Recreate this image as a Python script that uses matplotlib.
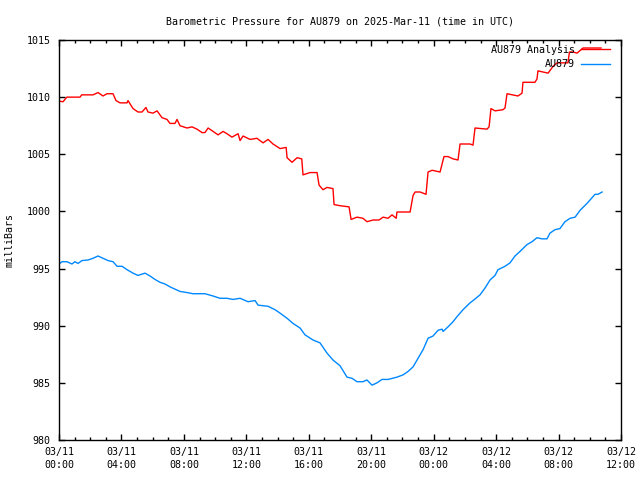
import matplotlib

matplotlib.use("Agg")
import matplotlib.pyplot as plt
import matplotlib.dates as mdates
import pandas as pd

START = pd.Timestamp("2025-03-11 00:00")

# hours since 03/11 00:00 UTC, pressure in mb
analysis_hours = [
    0, 0.26, 0.5, 1.35, 1.45, 2.18, 2.5, 2.82, 3.07, 3.46, 3.65, 3.91, 4.36, 4.42,
    4.74, 5.06, 5.32, 5.57, 5.7, 6.02, 6.28, 6.6, 6.92, 7.11, 7.43, 7.56, 7.75, 8.2,
    8.52, 8.84, 9.16, 9.35, 9.55, 9.87, 10.19, 10.51, 10.76, 11.08, 11.47, 11.6,
    11.79, 12.24, 12.68, 13.07, 13.39, 13.71, 14.16, 14.55, 14.61, 14.93, 15.25,
    15.55, 15.63, 16.08, 16.53, 16.66, 16.91, 17.17, 17.55, 17.62, 18.0, 18.58,
    18.71, 19.09, 19.47, 19.73, 20.12, 20.5, 20.76, 21.08, 21.33, 21.6, 21.65,
    22.49, 22.68, 22.81, 23.13, 23.51, 23.64, 23.9, 24.41, 24.66, 24.92, 25.24,
    25.56, 25.69, 26.33, 26.52, 26.65, 27.42, 27.55, 27.67, 27.93, 28.44, 28.57,
    28.7, 29.4, 29.66, 29.72, 30.49, 30.62, 30.68, 31.33, 31.65, 31.9, 32.6, 32.7,
    32.93, 33.18, 33.57, 34.72,
]
analysis_mb = [
    1009.65, 1009.6, 1010.0, 1010.0, 1010.2, 1010.2, 1010.4, 1010.1, 1010.3, 1010.3,
    1009.7, 1009.5, 1009.5, 1009.7, 1009.0, 1008.7, 1008.7, 1009.1, 1008.7, 1008.6,
    1008.8, 1008.2, 1008.05, 1007.7, 1007.7, 1008.05, 1007.5, 1007.3, 1007.4, 1007.2,
    1006.9, 1006.9, 1007.3, 1007.0, 1006.7, 1007.0, 1006.8, 1006.5, 1006.8, 1006.2,
    1006.6, 1006.3, 1006.4, 1006.0, 1006.3, 1005.9, 1005.5, 1005.6, 1004.7, 1004.3,
    1004.7, 1004.6, 1003.2, 1003.4, 1003.4, 1002.3, 1001.9, 1002.1, 1002.0, 1000.6,
    1000.5, 1000.4, 999.3, 999.5, 999.4, 999.1, 999.25, 999.25, 999.5, 999.4, 999.7,
    999.4, 999.95, 999.95, 1001.4, 1001.7, 1001.7, 1001.5, 1003.45, 1003.6, 1003.45,
    1004.8, 1004.8, 1004.6, 1004.5, 1005.9, 1005.9, 1005.8, 1007.3, 1007.2, 1007.4,
    1009.0, 1008.8, 1008.9, 1009.05, 1010.3, 1010.1, 1010.35, 1011.3, 1011.3, 1011.6,
    1012.3, 1012.1, 1012.7, 1013.0, 1013.0, 1013.95, 1013.95, 1013.85, 1014.3, 1014.3,
]

obs_hours = [
    0, 0.19, 0.51, 0.83, 1.02, 1.22, 1.47, 1.86, 2.18, 2.5, 2.82, 3.14, 3.46, 3.72,
    4.04, 4.36, 4.74, 5.06, 5.51, 5.83, 6.15, 6.47, 6.79, 7.11, 7.43, 7.75, 8.2,
    8.58, 9.03, 9.35, 9.87, 10.31, 10.76, 11.15, 11.6, 12.11, 12.56, 12.75, 13.39,
    13.84, 14.16, 14.61, 14.99, 15.44, 15.76, 16.27, 16.72, 17.17, 17.55, 18.0,
    18.45, 18.77, 19.09, 19.47, 19.73, 20.05, 20.37, 20.69, 21.08, 21.65, 22.04,
    22.36, 22.68, 23.0, 23.32, 23.64, 23.96, 24.28, 24.54, 24.6, 24.92, 25.24, 25.5,
    25.88, 26.33, 26.52, 26.97, 27.29, 27.61, 27.93, 28.12, 28.57, 28.89, 29.21,
    29.53, 29.98, 30.3, 30.62, 30.94, 31.26, 31.45, 31.77, 32.09, 32.41, 32.74,
    33.06, 33.38, 33.82, 34.34, 34.53, 34.79,
]
obs_mb = [
    995.4, 995.6, 995.6, 995.4, 995.6, 995.45, 995.7, 995.75, 995.9, 996.1, 995.9,
    995.7, 995.6, 995.2, 995.2, 994.9, 994.6, 994.4, 994.6, 994.35, 994.05, 993.8,
    993.65, 993.4, 993.2, 993.0, 992.9, 992.8, 992.8, 992.8, 992.6, 992.4, 992.4,
    992.3, 992.4, 992.1, 992.2, 991.8, 991.7, 991.4, 991.1, 990.65, 990.2, 989.8,
    989.2, 988.75, 988.5, 987.6, 987.0, 986.5, 985.5, 985.4, 985.1, 985.1, 985.25,
    984.8, 985.0, 985.3, 985.3, 985.5, 985.7, 986.0, 986.4, 987.15, 987.9, 988.9,
    989.1, 989.6, 989.7, 989.5, 989.9, 990.35, 990.8, 991.4, 992.0, 992.2, 992.7,
    993.3, 994.0, 994.4, 994.9, 995.2, 995.5, 996.1, 996.5, 997.1, 997.35, 997.7,
    997.6, 997.6, 998.1, 998.4, 998.5, 999.1, 999.4, 999.5, 1000.1, 1000.7, 1001.5,
    1001.5, 1001.7,
]

y_ticks = [980, 985, 990, 995, 1000, 1005, 1010, 1015]

plt.rcParams["font.family"] = "DejaVu Sans Mono"
plt.rcParams["font.size"] = 7.2

analysis_t = START + pd.to_timedelta(analysis_hours, unit="h")
obs_t = START + pd.to_timedelta(obs_hours, unit="h")

fig = plt.figure(figsize=(6.4, 4.8), dpi=100)
ax = fig.add_axes([59 / 640, 40 / 480, 562 / 640, 400 / 480])

ax.plot(analysis_t, analysis_mb, color="#ff0000", lw=1, label="AU879 Analysis")
ax.plot(obs_t, obs_mb, color="#0088ff", lw=1, label="AU879")

ax.set_xlim(START, START + pd.Timedelta(hours=36))
ax.set_ylim(980, 1015)
ax.set_yticks(y_ticks)
ax.xaxis.set_major_locator(mdates.HourLocator(byhour=range(0, 24, 4)))
ax.xaxis.set_minor_locator(mdates.HourLocator())
ax.xaxis.set_major_formatter(mdates.DateFormatter("%m/%d\n%H:%M"))
for lbl in ax.get_xticklabels():
    lbl.set_linespacing(1.4)
ax.tick_params(which="both", direction="in", top=True, right=True)
ax.tick_params(axis="x", pad=5)
ax.tick_params(axis="y", pad=6)
ax.tick_params(which="major", length=4, width=1)
ax.tick_params(which="minor", length=2, width=1)
for s in ax.spines.values():
    s.set_linewidth(1)

ax.set_ylabel("milliBars")
ax.yaxis.set_label_coords(-0.079, 0.5)
ax.set_title("Barometric Pressure for AU879 on 2025-Mar-11 (time in UTC)",
             fontsize=7.2, pad=11)
ax.legend(loc="upper right", bbox_to_anchor=(0.9804, 0.988), frameon=False,
          markerfirst=False, handlelength=2.9, borderaxespad=0, borderpad=0,
          labelspacing=0.45, handletextpad=0.6)

fig.savefig("out.png", dpi=100)
